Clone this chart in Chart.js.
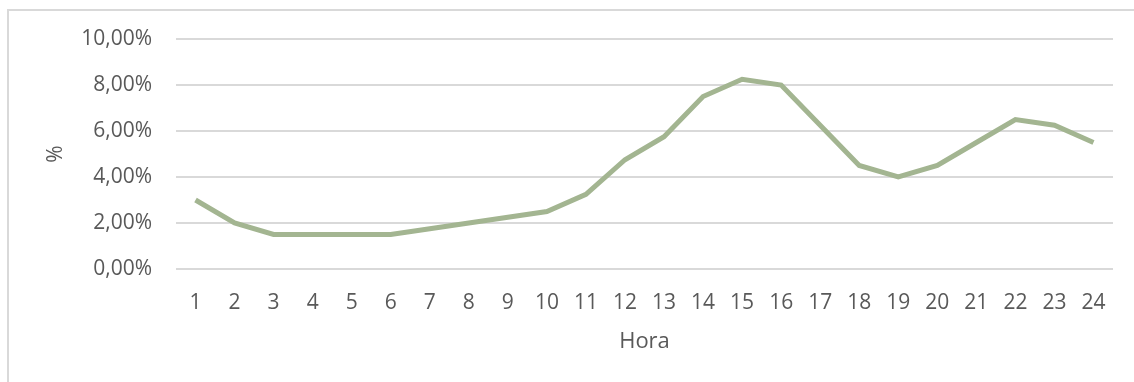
<!DOCTYPE html>
<html>
<head>
<meta charset="utf-8">
<script src="https://cdn.jsdelivr.net/npm/chart.js@4"></script>
<style>
  html, body { margin: 0; padding: 0; background: #fff; }
  #wrap { position: relative; width: 1134px; height: 382px; overflow: hidden; }
  #frame { position: absolute; left: 7px; top: 9px; width: 1200px; height: 400px;
           border-left: 2px solid #d9d9d9; border-top: 2px solid #d9d9d9; pointer-events: none; }
  canvas { position: absolute; left: 0; top: 0; }
</style>
</head>
<body>
<div id="wrap">
  <canvas id="chart" width="1134" height="382"></canvas>
  <div id="frame"></div>
</div>
<script>
// Hourly share of the daily total (%)
const hours = ['1','2','3','4','5','6','7','8','9','10','11','12','13','14','15','16','17','18','19','20','21','22','23','24'];
const share = [3.0, 2.0, 1.5, 1.5, 1.5, 1.5, 1.75, 2.0, 2.25, 2.5, 3.25, 4.75, 5.75, 7.5, 8.25, 8.0, 6.25, 4.5, 4.0, 4.5, 5.5, 6.5, 6.25, 5.5];
const yTicks = [0, 2, 4, 6, 8, 10];
const xTitle = 'Hora';
const yTitle = '%';

const textColor = '#595959';
const gridColor = '#d9d9d9';
const fontFamily = '"Open Sans", "DejaVu Sans", sans-serif';

const pctLabel = v => v.toFixed(2).replace('.', ',') + '%';

new Chart(document.getElementById('chart'), {
  type: 'line',
  data: {
    labels: hours,
    datasets: [{
      data: share,
      borderColor: '#a3b591',
      borderWidth: 5,
      pointRadius: 0,
      tension: 0,
      fill: false
    }]
  },
  options: {
    responsive: false,
    animation: false,
    events: [],
    layout: { padding: { left: 0, right: 21, top: 39, bottom: 0 } },
    plugins: { legend: { display: false }, tooltip: { enabled: false } },
    scales: {
      x: {
        type: 'category',
        offset: true,
        grid: { display: false, drawTicks: false },
        border: { display: false },
        ticks: { color: textColor, font: { family: fontFamily, size: 21 }, padding: 21, maxRotation: 0, autoSkip: false },
        title: { display: true, text: xTitle, color: textColor, font: { family: fontFamily, size: 22 }, padding: { top: 0, bottom: 27 } },
        afterFit: s => { s.height = 382 - 269; }
      },
      y: {
        min: 0,
        max: 10,
        afterBuildTicks: s => { s.ticks = yTicks.map(v => ({ value: v })); },
        grid: { color: gridColor, lineWidth: 2, drawTicks: false },
        border: { display: false },
        ticks: { color: textColor, font: { family: fontFamily, size: 21 }, padding: 24, callback: v => pctLabel(v) },
        title: { display: true, text: yTitle, color: textColor, font: { family: fontFamily, size: 21 }, padding: { top: 43, bottom: 0 } },
        afterFit: s => { s.width = 176; }
      }
    }
  }
});
</script>
</body>
</html>
